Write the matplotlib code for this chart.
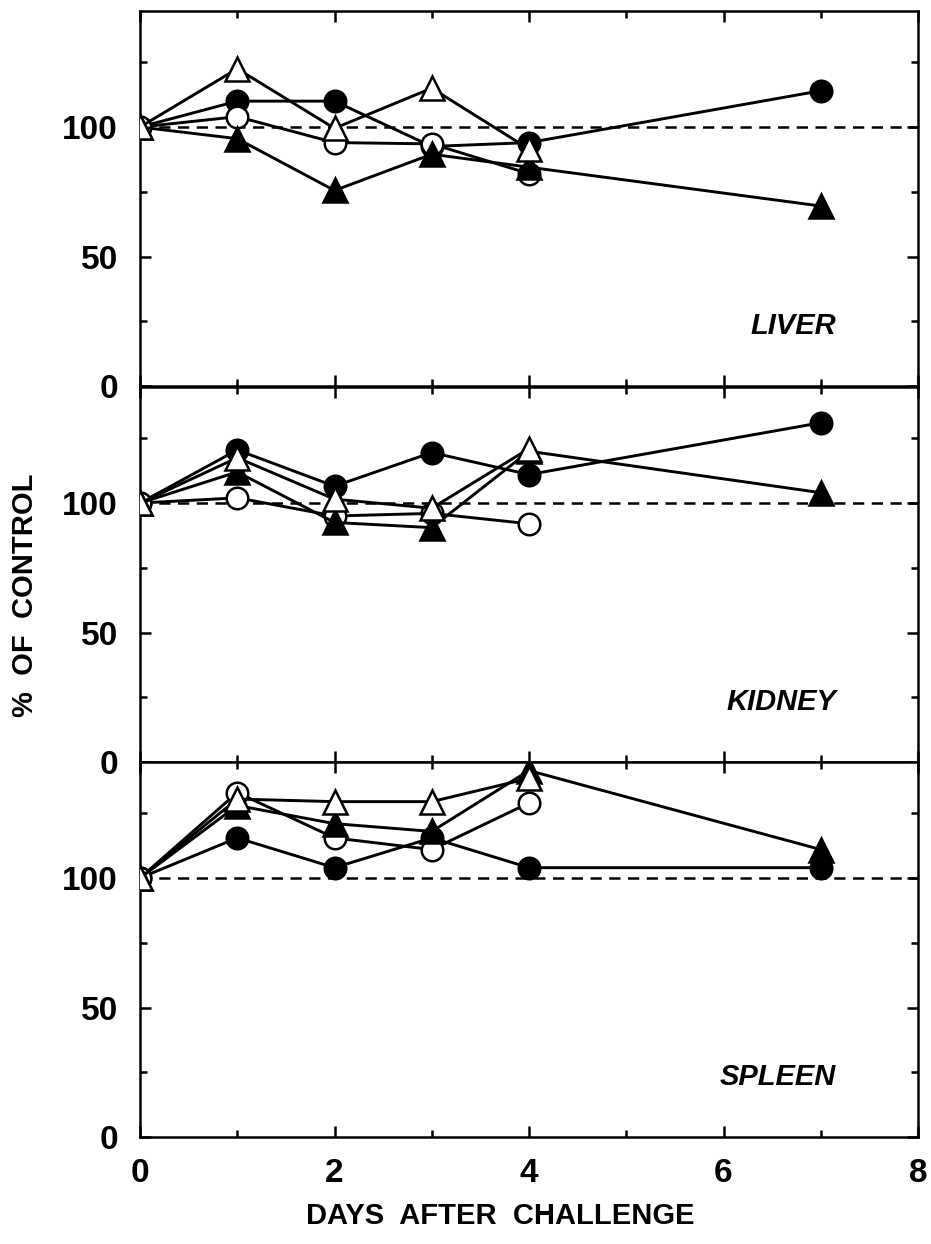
import numpy as np
import matplotlib
matplotlib.use('Agg')
import matplotlib.pyplot as plt

plt.rcParams['font.family'] = ['Liberation Sans', 'DejaVu Sans']
plt.rcParams['font.weight'] = 'bold'

# days
days_long = [0, 1, 2, 3, 4, 7]
days_short = [0, 1, 2, 3, 4]

# LIVER
liver_fc = [100, 110, 110, 92.5, 94, 114]
liver_oc = [100, 104, 94, 93.5, 82]
liver_ft = [100, 95.5, 75.5, 89.5, 84.5, 69.5]
liver_ot = [100, 122.5, 99.5, 115, 91.5]

# KIDNEY
kidney_fc = [100, 120.5, 106.5, 119.5, 111, 131]
kidney_oc = [100, 102, 95, 96, 92]
kidney_ft = [100, 112, 92.5, 90.5, 120, 104]
kidney_ot = [100, 117.5, 101.5, 98, 121]

# SPLEEN
spleen_fc = [100, 115.5, 104, 115.5, 104, 104]
spleen_oc = [100, 133, 115.5, 111, 129]
spleen_ft = [100, 128, 121, 118, 141.5, 111]
spleen_ot = [100, 130.5, 129.5, 129.5, 138.5]

panels = [
    ('LIVER', liver_fc, liver_oc, liver_ft, liver_ot),
    ('KIDNEY', kidney_fc, kidney_oc, kidney_ft, kidney_ot),
    ('SPLEEN', spleen_fc, spleen_oc, spleen_ft, spleen_ot),
]

fig = plt.figure(figsize=(9.31, 12.44), dpi=100)

left = 140 / 931
width = (918 - 140) / 931
h = 375.5 / 1244
bottoms = [1 - 386 / 1244, 1 - 762 / 1244, 1 - 1137 / 1244]

lw = 2.1
mew = 1.8
for i, (name, fc, oc, ft, ot) in enumerate(panels):
    ax = fig.add_axes([left, bottoms[i], width, h])
    ax.axhline(100, color='black', lw=1.8, dashes=(4.5, 3), zorder=1)
    ax.plot(days_long, fc, '-o', color='black', lw=lw, ms=15.5,
            mfc='black', mec='black', mew=mew, zorder=2)
    ax.plot(days_short, oc, '-o', color='black', lw=lw, ms=15.5,
            mfc='white', mec='black', mew=mew, zorder=3)
    ax.plot(days_long, ft, '-^', color='black', lw=lw, ms=17,
            mfc='black', mec='black', mew=mew, zorder=4)
    ax.plot(days_short, ot, '-^', color='black', lw=lw, ms=17,
            mfc='white', mec='black', mew=mew, zorder=5)
    ax.set_xlim(0, 8)
    ax.set_ylim(0, 145)
    ax.set_xticks([0, 2, 4, 6, 8])
    ax.set_xticks([1, 3, 5, 7], minor=True)
    ax.set_yticks([0, 50, 100])
    ax.set_yticks([25, 75, 125], minor=True)
    ax.tick_params(which='both', direction='in', top=True, right=True,
                   width=1.8, labelsize=24)
    ax.tick_params(axis='y', pad=16)
    ax.tick_params(axis='x', pad=15)
    ax.tick_params(which='major', length=8)
    ax.tick_params(which='minor', length=5)
    for s in ax.spines.values():
        s.set_linewidth(1.8)
    if i < 2:
        ax.tick_params(labelbottom=False)
    for lab in ax.get_xticklabels() + ax.get_yticklabels():
        lab.set_fontweight('bold')
    ax.text(0.895, 0.16, name, transform=ax.transAxes, ha='right',
            va='center', fontsize=21, fontweight='bold', style='italic')

fig.text(25 / 931, 1 - 595 / 1244, '%  OF  CONTROL', rotation=90,
         ha='center', va='center', fontsize=21, fontweight='bold')
fig.text(500 / 931, 1 - 1216 / 1244, 'DAYS  AFTER  CHALLENGE',
         ha='center', va='center', fontsize=21, fontweight='bold')

fig.savefig('out.png', dpi=100)
